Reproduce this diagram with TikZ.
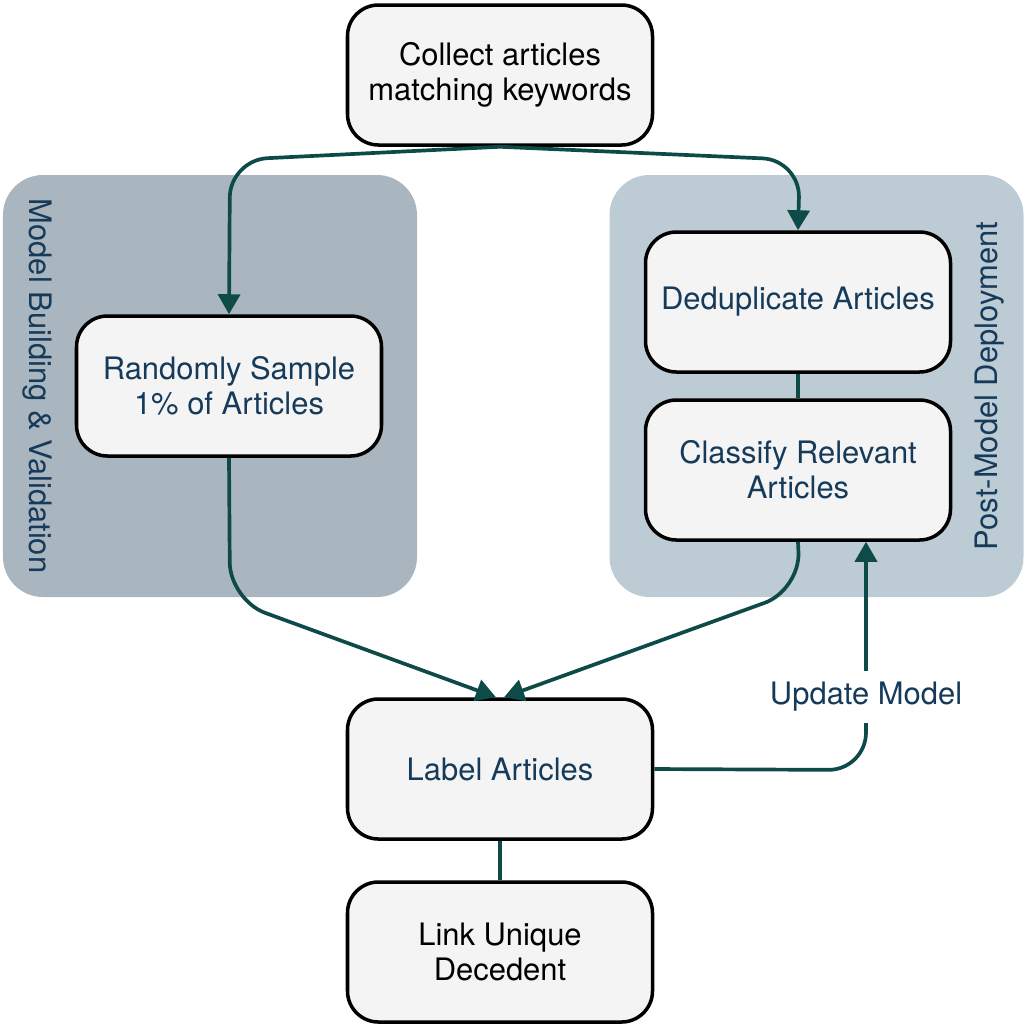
\documentclass[tikz,border=0pt]{standalone}
\usepackage{fontspec}
\setmainfont{TeX Gyre Heros}
\usetikzlibrary{arrows.meta}

\definecolor{flowgreen}{HTML}{0E4A47}
\definecolor{textblue}{HTML}{163B5A}
\definecolor{boxgray}{HTML}{F4F4F4}
\definecolor{leftpanel}{HTML}{AAB6BF}
\definecolor{rightpanel}{HTML}{BCCBD4}

\begin{document}
\begin{tikzpicture}
    \tikzstyle{stage}=[rectangle, rounded corners=0.62cm, draw=black, line width=2pt, fill=boxgray, minimum width=6.1cm, minimum height=2.8cm, align=center, text=textblue, font=\fontsize{17.6}{20}\selectfont]
    \tikzstyle{panel}=[rectangle, rounded corners=0.8cm, minimum width=8.28cm, minimum height=8.44cm]
    \tikzstyle{flow}=[draw=flowgreen, line width=2.1pt, rounded corners=0.75cm]
    \tikzstyle{tip}=[-{Triangle[width=0.44cm,length=0.4cm]}]
    \tikzstyle{side}=[text=textblue, font=\fontsize{17.6}{20}\selectfont]

    \useasboundingbox (0,0) rectangle (20.5,-20.48);

    % the two phases
    \node[panel, fill=leftpanel] (building) at (4.2,-7.72) {};
    \node[panel, fill=rightpanel] (deployment) at (16.33,-7.72) {};
    \node[side, rotate=-90] (buildingtext) at (0.74,-7.72) {Model Building \& Validation};
    \node[side, rotate=90] (deploymenttext) at (19.8,-7.72) {Post-Model Deployment};

    % steps
    \node[stage, text=black] (collect) at (10,-1.5) {Collect articles\\matching keywords};
    \node[stage] (sample) at (4.58,-7.72) {Randomly Sample\\1\% of Articles};
    \node[stage] (dedup) at (15.96,-6.04) {Deduplicate Articles};
    \node[stage] (classify) at (15.96,-9.4) {Classify Relevant\\Articles};
    \node[stage] (label) at (10,-15.38) {Label Articles};
    \node[stage, text=black] (link) at (10,-19.04) {Link Unique\\Decedent};

    % connectors
    \draw[flow, tip] (collect.south) -- (4.6,-3.2) -- (sample.north);
    \draw[flow, tip] (collect.south) -- (16,-3.2) -- (dedup.north);
    \draw[flow] (dedup) -- (classify);
    \draw[flow, tip] (sample.south) -- (4.6,-12.0) -- ([xshift=-0.08cm]label.north);
    \draw[flow, tip] (classify.south) -- (16,-11.8) -- ([xshift=0.08cm]label.north);
    \draw[flow] (label) -- (link);
    \coordinate (turn) at (17.32,-15.4);
    \draw[flow, tip] (label.east) -- (turn) -- (turn |- classify.south);
    \node[side, fill=white, minimum width=4.9cm, minimum height=1.04cm] (update) at (17.32,-13.94) {Update Model};

\end{tikzpicture}
\end{document}
